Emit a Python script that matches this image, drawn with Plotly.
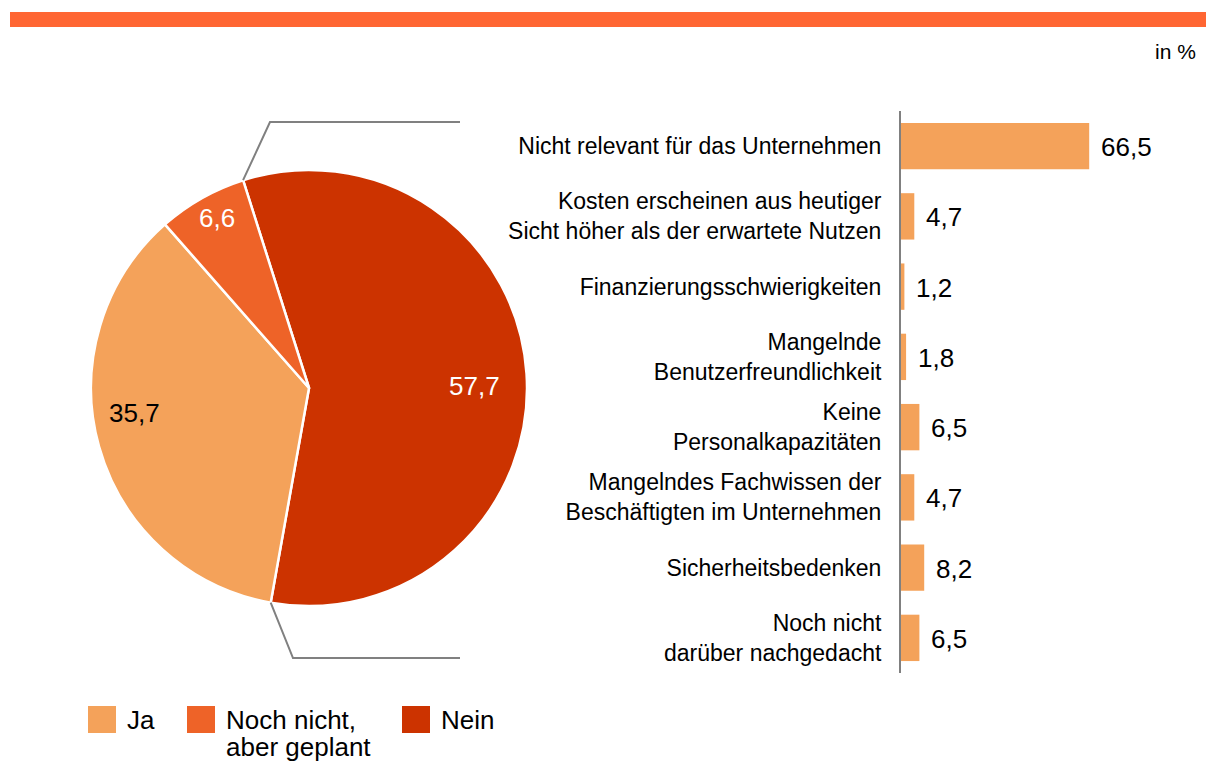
import math
import plotly.graph_objects as go

# ---------------- data ----------------
pie_labels = ["Nein", "Ja", "Noch nicht, aber geplant"]
pie_values = [57.7, 35.7, 6.6]
pie_text = ["57,7", "35,7", "6,6"]
pie_colors = ["#CC3300", "#F4A25A", "#EE6328"]
pie_textcolors = ["white", "black", "white"]

legend_labels = ["Ja", "Noch nicht,<br>aber geplant", "Nein"]
legend_colors = ["#F4A25A", "#EE6328", "#CC3300"]

bar_categories = [
    "Nicht relevant für das Unternehmen",
    "Kosten erscheinen aus heutiger<br>Sicht höher als der erwartete Nutzen",
    "Finanzierungsschwierigkeiten",
    "Mangelnde<br>Benutzerfreundlichkeit",
    "Keine<br>Personalkapazitäten",
    "Mangelndes Fachwissen der<br>Beschäftigten im Unternehmen",
    "Sicherheitsbedenken",
    "Noch nicht<br>darüber nachgedacht",
]
bar_values = [66.5, 4.7, 1.2, 1.8, 6.5, 4.7, 8.2, 6.5]
bar_text = ["66,5", "4,7", "1,2", "1,8", "6,5", "4,7", "8,2", "6,5"]

# ---------------- layout constants ----------------
W, H = 1206, 763
FONT = "Liberation Sans, Arial, sans-serif"
ROT = -17.6
PCX, PCY, PR = 309, 388, 218  # pie centre / radius in pixels
LABEL_RFRAC = [0.757, 0.81, 0.885]   # radial position of pie labels (fraction of radius)
LABEL_ANGLE_ADJ = [3, 7.5, 1]        # small angular nudge of pie labels (degrees)


def px(x):
    return x / W


def py(y):
    return 1 - y / H


fig = go.Figure()

fig.add_trace(go.Pie(
    labels=pie_labels, values=pie_values,
    textinfo="none",
    sort=False, direction="clockwise", rotation=ROT,
    marker=dict(colors=pie_colors, line=dict(color="white", width=2.5)),
    domain=dict(x=[px(PCX - PR), px(PCX + PR)], y=[py(PCY + PR), py(PCY - PR)]),
    showlegend=False, hoverinfo="label+value",
))

# pie value labels at the slice mid-angles
tot = sum(pie_values)
cum = 0.0
for v, t, tc, rf, adj in zip(pie_values, pie_text, pie_textcolors, LABEL_RFRAC, LABEL_ANGLE_ADJ):
    mid = math.radians(ROT + 360 * (cum + v / 2) / tot + adj)
    cum += v
    lx = PCX + rf * PR * math.sin(mid)
    ly = PCY - rf * PR * math.cos(mid)
    fig.add_annotation(x=px(lx), y=py(ly), xref="paper", yref="paper", text=t,
                       showarrow=False, xanchor="center", yanchor="middle",
                       font=dict(family=FONT, size=26, color=tc))

fig.add_trace(go.Bar(
    x=bar_values, y=bar_categories, orientation="h",
    marker=dict(color="#F4A25A", line=dict(width=0)),
    showlegend=False, xaxis="x", yaxis="y",
))

# value labels next to bars
for v, t, c in zip(bar_values, bar_text, bar_categories):
    fig.add_annotation(x=v, y=c, xref="x", yref="y", text=t, showarrow=False,
                       xanchor="left", yanchor="middle", xshift=10, yshift=-1,
                       font=dict(family=FONT, size=26, color="black"))

# connector lines from pie slice boundaries
a_start = math.radians(ROT)
a_end = math.radians(ROT + 360 * pie_values[0] / tot)
p_top = (PCX + PR * math.sin(a_start), PCY - PR * math.cos(a_start))
p_bot = (PCX + PR * math.sin(a_end), PCY - PR * math.cos(a_end))
for pts in ([p_top, (270, 122), (460, 122)], [p_bot, (293, 658), (460, 658)]):
    path = "M {} {} L {} {} L {} {}".format(
        px(pts[0][0]), py(pts[0][1]), px(pts[1][0]), py(pts[1][1]), px(pts[2][0]), py(pts[2][1]))
    fig.add_shape(type="path", path=path, xref="paper", yref="paper",
                  line=dict(color="#808080", width=2))

# top stripe
fig.add_shape(type="rect", xref="paper", yref="paper", x0=px(10), x1=1, y0=py(27), y1=py(12),
              fillcolor="#FF6633", line=dict(width=0))

fig.add_annotation(x=px(1198), y=py(51), xref="paper", yref="paper", text="in %",
                   showarrow=False, xanchor="right", yanchor="middle",
                   font=dict(family=FONT, size=21, color="black"))

# legend (manual, each line placed separately for tight line spacing)
leg_x = [88, 187, 402]
for lx, lab, col in zip(leg_x, legend_labels, legend_colors):
    fig.add_shape(type="rect", xref="paper", yref="paper", x0=px(lx), x1=px(lx + 28),
                  y0=py(733), y1=py(706), fillcolor=col, line=dict(width=0))
    for i, line in enumerate(lab.split("<br>")):
        fig.add_annotation(x=px(lx + 37), y=py(720 + 27 * i), xref="paper", yref="paper",
                           text=line, showarrow=False, xanchor="left", yanchor="middle",
                           align="left", font=dict(family=FONT, size=26, color="black"))

fig.update_layout(
    width=W, height=H,
    margin=dict(l=0, r=0, t=0, b=0),
    paper_bgcolor="white", plot_bgcolor="white",
    font=dict(family=FONT, color="black"),
    bargap=0.34,
    xaxis=dict(domain=[px(901), px(1184)], range=[0, 100], visible=False, fixedrange=True),
    yaxis=dict(domain=[py(673), py(111)], type="category", range=[7.5, -0.5],
               showline=True, linecolor="#808080", linewidth=2, showgrid=False,
               ticks="", ticklabelstandoff=13, zeroline=False,
               tickfont=dict(family=FONT, size=23, color="black"), anchor="x"),
)

fig.write_html("out.html")
